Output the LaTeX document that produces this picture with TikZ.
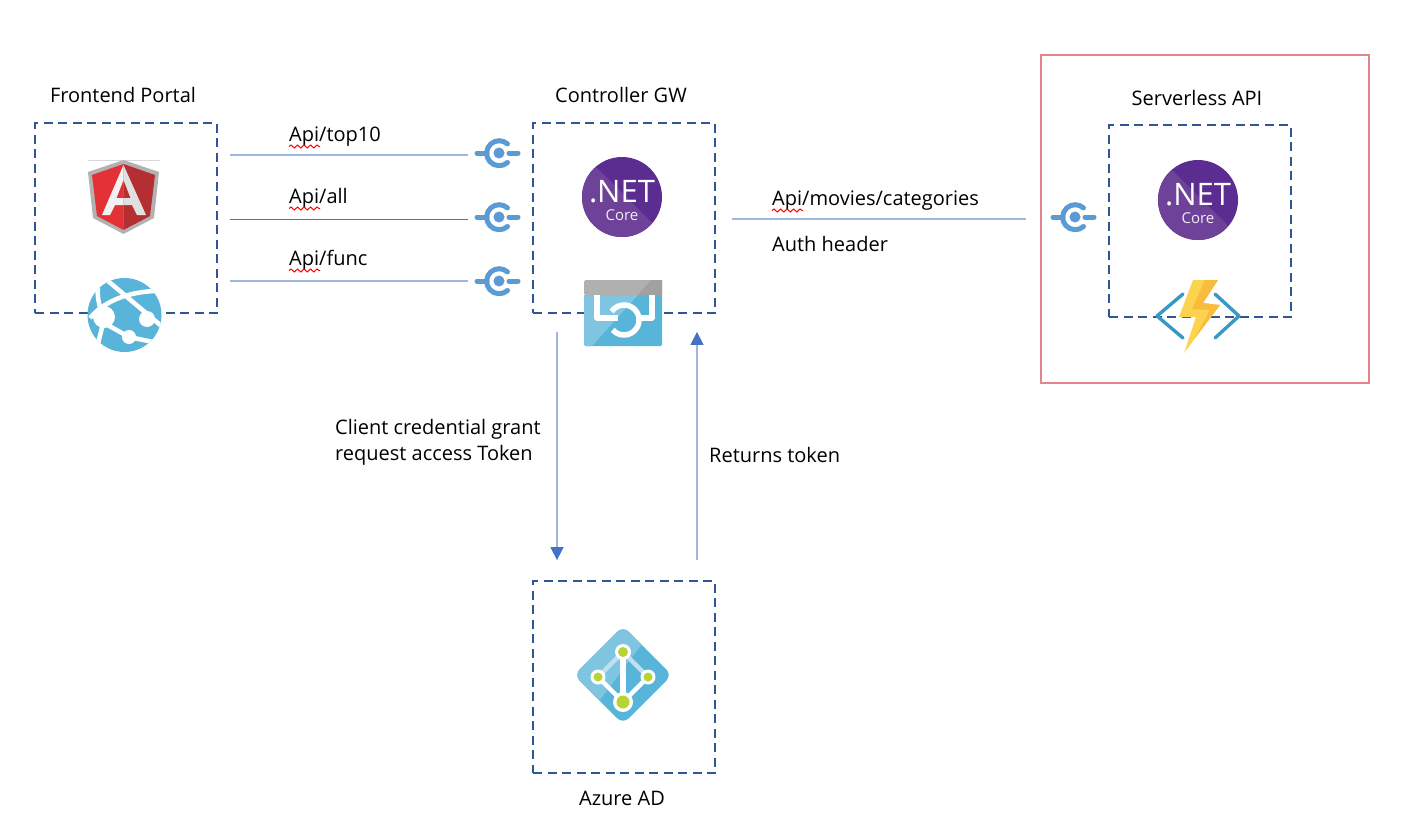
\documentclass[tikz,border=0pt]{standalone}
\usepackage{fontspec}
\setmainfont{Open Sans}
\usetikzlibrary{arrows.meta,decorations.pathmorphing}

\definecolor{boxblue}{HTML}{2F5597}
\definecolor{lineblue}{HTML}{9DB7E0}
\definecolor{tipblue}{HTML}{4472C4}
\definecolor{sockblue}{HTML}{5B9BD5}
\definecolor{azblue}{HTML}{59B4D9}
\definecolor{azlight}{HTML}{7FC4E0}
\definecolor{netdark}{HTML}{5C2D91}
\definecolor{netlight}{HTML}{6F4299}
\definecolor{frameRed}{HTML}{E4858E}
\definecolor{fnblue}{HTML}{3999C6}
\definecolor{adgreen}{HTML}{B8D432}
\definecolor{boltyellow}{HTML}{FCD34E}
\definecolor{boltorange}{HTML}{F8BD3E}
\definecolor{ngred}{HTML}{E23237}
\definecolor{ngdark}{HTML}{B52E31}

\tikzset{
  dashbox/.style={draw=boxblue,line width=1.8pt,dash pattern=on 9pt off 5.5pt,minimum width=182pt,minimum height=190pt,inner sep=0pt},
  lbl/.style={inner sep=0pt,font=\fontsize{20}{24}\selectfont},
  lblw/.style={lbl,anchor=base west},
  apiline/.style={draw=lineblue,line width=1.5pt},
  tokenline/.style={apiline,-{Triangle[length=13pt,width=13pt,color=tipblue]}},
  squiggle/.style={draw=red,line width=1pt,decorate,decoration={snake,amplitude=1.5pt,segment length=6.5pt}},
  sockbox/.style={minimum width=44pt,minimum height=30pt,inner sep=0pt}
}

% service socket
\newcommand{\socket}[3]{
\node[sockbox] (#3) at (#1,#2) {};
\begin{scope}[shift={(#1,#2)},line cap=round,draw=sockblue,line width=5pt]
\draw (8.5pt,-9.5pt) arc[start angle=-48,end angle=-312,radius=12.5pt];
\draw (-22,0) -- (-12,0);
\draw (10,0) -- (19,0);
\fill[sockblue] (0,0) circle[radius=5.5pt];
\end{scope}
}

% .NET Core badge
\newcommand{\netcore}[3]{
\begin{scope}[shift={(#1,#2)}]
\fill[netdark] (0,0) circle[radius=40pt];
\begin{scope}
\clip (0,0) circle[radius=40pt];
\fill[netlight] (-44,-48) -- (44,40) -- (-44,40) -- cycle;
\end{scope}
\node[inner sep=0pt,white,font=\fontsize{31}{31}\selectfont] (#3net) at (0,-5) {.NET};
\node[inner sep=0pt,white!90!netlight,font=\fontsize{15}{15}\selectfont] (#3core) at (0,18) {Core};
\end{scope}
}

\begin{document}
\begin{tikzpicture}[x=1pt,y=-1pt]
\useasboundingbox (0,0) rectangle (1406,838);

% boxes
\node[dashbox] (frontend) at (126,218) {};
\node[dashbox] (controller) at (624,218) {};
\node[dashbox,minimum height=192pt] (serverless) at (1200,221) {};
\node[dashbox,minimum height=192pt] (azuread) at (624,677) {};
\node[draw=frameRed,line width=1.8pt,minimum width=328pt,minimum height=328pt,inner sep=0pt] (redframe) at (1205,219) {};

% titles
\node[lbl] (frontendtitle) at (123,95) {Frontend Portal};
\node[lbl] (controllertitle) at (621,95) {Controller GW};
\node[lbl] (serverlesstitle) at (1197,98) {Serverless API};
\node[lbl] (azuretitle) at (622,798) {Azure AD};

% sockets
\socket{499}{153}{socktop}
\socket{499}{217}{sockall}
\socket{499}{281}{sockfunc}
\socket{1075}{217}{sockapi}

% api lines
\draw[apiline,shorten <=12pt,shorten >=9pt] (frontend.east |- 0,155) -- (socktop.west |- 0,155);
\draw[apiline,draw=tipblue,line width=1pt,shorten <=12pt,shorten >=9pt] (frontend.east |- 0,219) -- (sockall.west |- 0,219);
\draw[apiline,shorten <=12pt,shorten >=9pt] (frontend.east |- 0,281) -- (sockfunc.west |- 0,281);
\draw[apiline,shorten <=16pt,shorten >=27pt] (controller.east |- 0,219) -- (sockapi.west |- 0,219);

\node[lblw] (lbltop) at (289,141) {Api/top10};
\node[lblw] (lblall) at (289,203) {Api/all};
\node[lblw] (lblfunc) at (289,265) {Api/func};
\node[lblw] (lblmovies) at (772,205) {Api/movies/categories};
\node[lblw] (lblauth) at (772,251) {Auth header};
\draw[squiggle] ([yshift=-5.5pt]lbltop.base west) -- ++(31,0);
\draw[squiggle] ([yshift=-5.5pt]lblall.base west) -- ++(31,0);
\draw[squiggle] ([yshift=-5.5pt]lblfunc.base west) -- ++(31,0);
\draw[squiggle] ([yshift=-5.5pt]lblmovies.base west) -- ++(31,0);

% token lines
\draw[tokenline,shorten <=18pt,shorten >=20pt] (controller.south -| 557,0) -- (azuread.north -| 557,0);
\draw[tokenline,shorten <=20pt,shorten >=18pt] (azuread.north -| 697,0) -- (controller.south -| 697,0);
\node[lblw] (lblgrant) at (335,434) {Client credential grant};
\node[lblw] (lblrequest) at (335,460) {request access Token};
\node[lblw] (lblreturns) at (709,462) {Returns token};

% angular shield
\draw[black!15,line width=0.8pt] (88,160) -- (160,160);
\fill[black!30] (123.5,160) -- (159,172) -- (154,218) -- (123.5,234) -- (93,218) -- (88,172) -- cycle;
\fill[ngred] (123.5,164) -- (92,175) -- (97,216) -- (123.5,230) -- cycle;
\fill[ngdark] (123.5,164) -- (155,175) -- (150,216) -- (123.5,230) -- cycle;
\fill[white!95!black,even odd rule] (123.5,165) -- (102,215) -- (110,215) -- (115,205) -- (123.5,205) -- (123.5,198) -- (116.5,198) -- (123.5,180) -- cycle;
\fill[black!12,even odd rule] (123.5,165) -- (146,215) -- (137,215) -- (132,205) -- (123.5,205) -- (123.5,198) -- (130.5,198) -- (123.5,180) -- cycle;

% web app globe
\begin{scope}
\fill[azblue] (124.5,315) circle[radius=37pt];
\clip (124.5,315) circle[radius=37pt];
\draw[white,line width=4.5pt] (108,281) -- (165,329);
\draw[white,line width=4.5pt] (98,288) .. controls (96,300) and (104,320) .. (104,318) .. controls (102,330) and (98,340) .. (97,352);
\draw[white,line width=4.5pt] (90,318) .. controls (105,300) and (130,292) .. (155,291);
\draw[white,line width=4.5pt] (104,323) -- (129,337) -- (158,343);
\fill[white] (104,317) circle[radius=11pt];
\fill[white] (147,319) circle[radius=8pt];
\fill[white] (129,337) circle[radius=7pt];
\end{scope}

% net badges
\netcore{622}{197}{gw}
\netcore{1198}{200}{srv}

% api management
\begin{scope}
\fill[azblue,rounded corners=1.5pt] (584,294) rectangle (662,346);
\fill[azlight,rounded corners=1.5pt] (584,294) -- (639,294) -- (592,346) -- (584,346) -- cycle;
\fill[black!31,rounded corners=1.5pt] (584,295) -- (584,280) -- (662,280) -- (662,295) -- cycle;
\fill[black!37] (638,295) -- (651,280) -- (662,280) -- (662,295) -- cycle;
\draw[white,line width=5.5pt,line join=round] (597,295) -- (597,318) -- (618,318);
\draw[white,line width=5.5pt,line join=round] (652,295) -- (652,318) -- (636,318);
\draw[white,line width=5.5pt] (611.6,311.6) arc[start angle=146,end angle=-139,radius=15pt];
\end{scope}

% functions icon
\draw[fnblue,line width=3.4pt,line cap=round,line join=round] (1183,294) -- (1157,316) -- (1183,338);
\draw[fnblue,line width=3.4pt,line cap=round,line join=round] (1215,294) -- (1239,316) -- (1215,338);
\fill[boltyellow] (1193,280) -- (1218,280) -- (1203,303) -- (1220,305) -- (1184,353) -- (1196,317) -- (1179,317) -- cycle;
\fill[boltorange] (1205,280) -- (1218,280) -- (1203,303) -- (1220,305) -- (1195,338) -- (1210,310) -- (1192,309) -- cycle;

% azure ad diamond
\fill[azblue,rounded corners=8pt] (623,626) -- (672,675) -- (623,724) -- (574,675) -- cycle;
\begin{scope}
\clip[rounded corners=8pt] (623,626) -- (672,675) -- (623,724) -- (574,675) -- cycle;
\fill[azlight] (623,626) -- (645,640) -- (600,700) -- (574,675) -- cycle;
\end{scope}
\draw[azlight!50!white,line width=4.5pt] (598,677) -- (623,652) -- (648,677);
\draw[white,line width=4.5pt] (598,677) -- (623,702) -- (648,677);
\draw[white,line width=6.5pt] (623,652) -- (623,702);
\fill[white] (623,652) circle[radius=8pt];
\fill[white] (598,677) circle[radius=7.5pt];
\fill[white] (648,677) circle[radius=7.5pt];
\fill[white] (623,702) circle[radius=10pt];
\fill[adgreen] (623,652) circle[radius=5pt];
\fill[adgreen] (598,677) circle[radius=4.5pt];
\fill[adgreen] (648,677) circle[radius=4.5pt];
\fill[adgreen] (623,702) circle[radius=6.5pt];
\end{tikzpicture}
\end{document}
